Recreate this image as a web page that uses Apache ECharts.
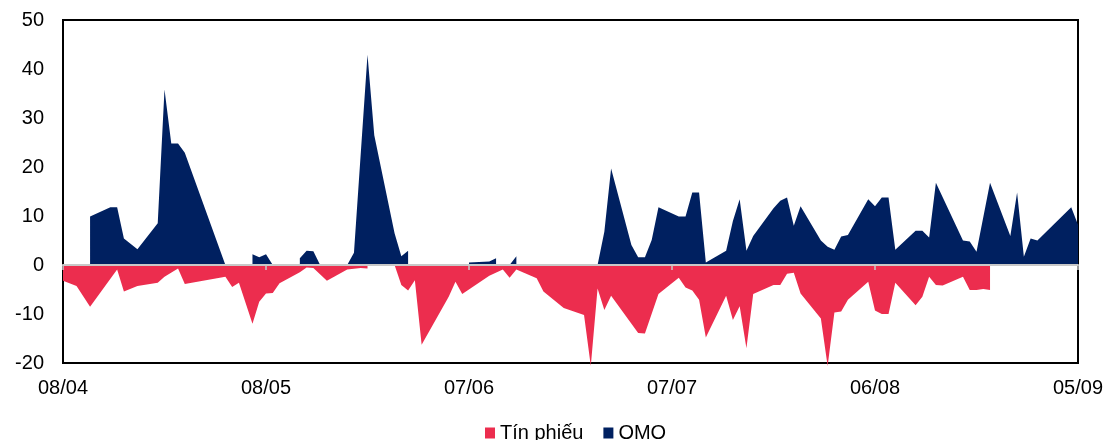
<!DOCTYPE html>
<html>
<head>
<meta charset="utf-8">
<script src="https://cdn.jsdelivr.net/npm/echarts@6/dist/echarts.min.js"></script>
<style>
html,body{margin:0;padding:0;background:#fff;}
#chart{width:1107px;height:440px;}
</style>
</head>
<body>
<div id="chart"></div>
<script>
// Axis
const startDate = '2024-04-08';
const tickLabels = ['08/04', '08/05', '07/06', '07/07', '06/08', '05/09'];
const yTicks = [-20, -10, 0, 10, 20, 30, 40, 50];

// Tín phiếu (net, bn VND)
const tpDates = ['2024-04-08','2024-04-10','2024-04-12','2024-04-16','2024-04-17','2024-04-19','2024-04-22','2024-04-23','2024-04-25','2024-04-26',
  '2024-05-02','2024-05-03','2024-05-04','2024-05-06','2024-05-07','2024-05-08','2024-05-09','2024-05-10','2024-05-13','2024-05-14',
  '2024-05-15','2024-05-17','2024-05-20','2024-05-22','2024-05-23','2024-05-24','2024-05-27','2024-05-28','2024-05-29','2024-05-30',
  '2024-05-31','2024-06-04','2024-06-05','2024-06-06','2024-06-10','2024-06-12','2024-06-13','2024-06-14','2024-06-17','2024-06-18',
  '2024-06-21','2024-06-24','2024-06-25','2024-06-26','2024-06-27','2024-06-28','2024-07-02','2024-07-03','2024-07-05','2024-07-08',
  '2024-07-09','2024-07-10','2024-07-11','2024-07-12','2024-07-15','2024-07-16','2024-07-17','2024-07-18','2024-07-19','2024-07-22',
  '2024-07-23','2024-07-24','2024-07-25','2024-07-26','2024-07-29','2024-07-30','2024-07-31','2024-08-01','2024-08-02','2024-08-05',
  '2024-08-06','2024-08-07','2024-08-08','2024-08-09','2024-08-12','2024-08-13','2024-08-14','2024-08-15','2024-08-16','2024-08-19',
  '2024-08-20','2024-08-21','2024-08-22','2024-08-23'];
const tpValues = [-3.2,-4.3,-8.5,-0.9,-5.4,-4.3,-3.6,-2.4,-0.7,-3.9,
  -2.4,-4.5,-3.6,-12.0,-7.5,-5.8,-5.7,-3.7,-1.5,-0.5,
  -0.6,-3.2,-0.9,-0.6,-0.7,null,0,-4.1,-5.2,-3.1,
  -16.3,-6.5,-3.4,-5.9,-2.2,-0.9,-2.6,-0.9,-2.7,-5.4,
  -8.8,-10.2,-20.6,-4.8,-9.2,-6.3,-13.9,-14.0,-5.9,-2.6,
  -4.6,-5.2,-7.1,-14.8,-6.3,-11.2,-8.4,-17.0,-5.9,-4.1,
  -4.1,-1.8,-1.6,-5.8,-10.9,-20.6,-9.7,-9.5,-7.1,-3.4,
  -9.3,-10.0,-10.0,-3.6,-8.2,-6.5,-2.4,-4.1,-4.2,-2.4,
  -5.1,-5.1,-4.9,-5.1];

// OMO (net, bn VND)
const omoDates = ['2024-04-12','2024-04-15','2024-04-16','2024-04-17','2024-04-19','2024-04-22','2024-04-23','2024-04-24','2024-04-25','2024-04-26',
  '2024-05-02','2024-05-03','2024-05-06','2024-05-07','2024-05-08','2024-05-09','2024-05-10','2024-05-13','2024-05-14','2024-05-15',
  '2024-05-16','2024-05-20','2024-05-21','2024-05-23','2024-05-24','2024-05-27','2024-05-28','2024-05-29','2024-05-30','2024-06-07',
  '2024-06-10','2024-06-11','2024-06-12','2024-06-13','2024-06-14','2024-06-17','2024-06-26','2024-06-27','2024-06-28','2024-07-01',
  '2024-07-02','2024-07-03','2024-07-04','2024-07-05','2024-07-08','2024-07-09','2024-07-10','2024-07-11','2024-07-12','2024-07-15',
  '2024-07-16','2024-07-17','2024-07-18','2024-07-19','2024-07-22','2024-07-23','2024-07-24','2024-07-25','2024-07-26','2024-07-29',
  '2024-07-30','2024-07-31','2024-08-01','2024-08-02','2024-08-05','2024-08-06','2024-08-07','2024-08-08','2024-08-09','2024-08-12',
  '2024-08-13','2024-08-14','2024-08-15','2024-08-19','2024-08-20','2024-08-21','2024-08-23','2024-08-26','2024-08-27','2024-08-28',
  '2024-08-29','2024-08-30','2024-09-04','2024-09-05'];
const omoValues = [9.9,11.8,11.8,5.4,3.2,8.5,35.8,24.8,24.8,22.9,
  0,null,2.2,1.6,2.2,0,null,1.4,2.9,2.8,
  0,0,2.5,42.9,26.5,6.5,1.8,2.9,null,0.5,
  0.7,1.4,null,0,1.8,null,0,6.8,19.7,4.1,
  1.6,1.6,5.1,11.8,9.9,9.9,14.8,14.8,0.5,2.9,
  9.0,13.4,2.9,5.9,11.6,13.1,13.8,8.0,12.0,5.0,
  3.7,3.1,5.8,6.1,13.4,12.0,13.8,13.8,3.1,7.0,
  7.0,5.6,16.8,5.0,4.8,2.7,16.8,5.9,14.8,1.7,
  5.4,5.0,11.8,8.2];

function dayOffset(s) {
  const p = s.split('-').map(Number), b = startDate.split('-').map(Number);
  return Math.round((Date.UTC(p[0], p[1]-1, p[2]) - Date.UTC(b[0], b[1]-1, b[2])) / 86400000);
}
const pairs = (ds, vs) => ds.map((d, i) => [dayOffset(d), vs[i]]);

const FONT = 'Liberation Sans, Arial, sans-serif';
const chart = echarts.init(document.getElementById('chart'), null, {renderer: 'canvas'});
chart.setOption({
  animation: false,
  backgroundColor: '#fff',
  grid: {left: 63, right: 29, top: 20, bottom: 77, show: true, borderColor: '#000', borderWidth: 2, backgroundColor: 'transparent'},
  legend: {
    left: 485, top: 423, padding: 0, itemWidth: 10, itemHeight: 11, itemGap: 20,
    icon: 'rect',
    textStyle: {fontFamily: FONT, fontSize: 20, color: '#000'},
    data: ['Tín phiếu', 'OMO']
  },
  xAxis: [{
    type: 'value', min: 0, max: (tickLabels.length - 1) * 30, interval: 30,
    axisLine: {show: false, onZero: false},
    axisTick: {show: false},
    splitLine: {show: false},
    axisLabel: {fontFamily: FONT, fontSize: 20, color: '#000', margin: 15,
      formatter: v => tickLabels[Math.round(v / 30)]}
  }, {
    type: 'value', min: 0, max: (tickLabels.length - 1) * 30, interval: 30,
    position: 'bottom', z: 5,
    axisLine: {show: true, onZero: true, onZeroAxisIndex: 0, lineStyle: {color: '#C8C8C8', width: 2}},
    axisTick: {show: true, length: 5, lineStyle: {color: '#C8C8C8', width: 1.5}},
    axisLabel: {show: false},
    splitLine: {show: false}
  }],
  yAxis: {
    type: 'value', min: yTicks[0], max: yTicks[yTicks.length - 1], interval: 10,
    axisLine: {show: false},
    axisTick: {show: false},
    splitLine: {show: false},
    axisLabel: {fontFamily: FONT, fontSize: 20, color: '#000', margin: 19}
  },
  series: [{
    name: 'Tín phiếu', type: 'line', xAxisIndex: 0,
    data: pairs(tpDates, tpValues),
    symbol: 'none', clip: false,
    itemStyle: {color: '#EC2D4E'},
    lineStyle: {width: 0},
    areaStyle: {color: '#EC2D4E', opacity: 1}
  }, {
    name: 'OMO', type: 'line', xAxisIndex: 0,
    data: pairs(omoDates, omoValues),
    symbol: 'none', clip: false,
    itemStyle: {color: '#002060'},
    lineStyle: {width: 0},
    areaStyle: {color: '#002060', opacity: 1}
  }]
});
</script>
</body>
</html>
